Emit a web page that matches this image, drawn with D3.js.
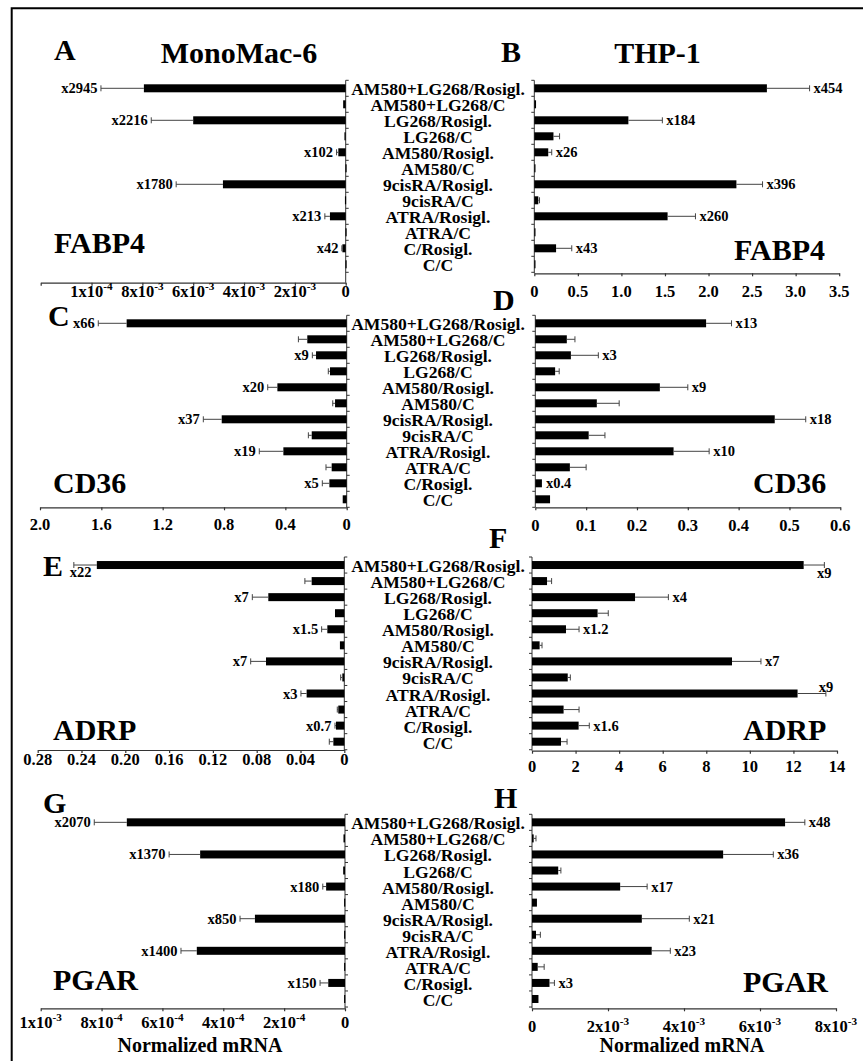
<!DOCTYPE html>
<html><head><meta charset="utf-8">
<script src="https://cdn.jsdelivr.net/npm/d3@7"></script>
<style>
html,body{margin:0;padding:0;background:#fff;}
</style></head>
<body>
<svg id="chart" width="863" height="1061" font-family="'Liberation Serif', 'Times New Roman', 'DejaVu Serif', serif" font-weight="bold"></svg>
<script>
// ---------------- DATA ----------------
const categories = ["AM580+LG268/Rosigl.","AM580+LG268/C","LG268/Rosigl.","LG268/C","AM580/Rosigl.","AM580/C",
  "9cisRA/Rosigl.","9cisRA/C","ATRA/Rosigl.","ATRA/C","C/Rosigl.","C/C"];

// FABP4
const fabp4Mono     = [7.94e-3,1.0e-4,6.0e-3,5e-5,2.9e-4,1e-5,4.83e-3,3e-5,6.2e-4,1e-5,1.3e-4,1e-5];
const fabp4MonoSD   = [1.69e-3,0,1.65e-3,0,7e-5,0,1.84e-3,0,2.0e-4,0,2e-5,0];
const fabp4MonoFold = ["x2945","","x2216","","x102","","x1780","","x213","","x42",""];
const fabp4Thp      = [2.67,0.02,1.08,0.22,0.16,0.005,2.32,0.046,1.53,0.005,0.25,0.005];
const fabp4ThpSD    = [0.49,0,0.39,0.07,0.04,0,0.30,0.014,0.32,0,0.18,0];
const fabp4ThpFold  = ["x454","","x184","","x26","","x396","","x260","","x43",""];
// CD36
const cd36Mono      = [1.435,0.257,0.20,0.109,0.452,0.076,0.815,0.228,0.413,0.098,0.113,0.026];
const cd36MonoSD    = [0.185,0.058,0.024,0.011,0.063,0.015,0.12,0.022,0.157,0.037,0.046,0];
const cd36MonoFold  = ["x66","","x9","","x20","","x37","","x19","","x5",""];
const cd36Thp       = [0.336,0.062,0.070,0.039,0.245,0.121,0.471,0.105,0.272,0.068,0.013,0.029];
const cd36ThpSD     = [0.05,0.016,0.054,0.008,0.055,0.044,0.061,0.032,0.07,0.032,0,0];
const cd36ThpFold   = ["x13","","x3","","x9","","x18","","x10","","x0.4",""];
// ADRP
const adrpMono      = [0.226,0.0298,0.0694,0.0085,0.0155,0.004,0.0715,0.0018,0.0344,0.0055,0.0076,0.010];
const adrpMonoSD    = [0.021,0.0062,0.0146,0,0.0052,0,0.014,0.0015,0.0052,0.0009,0.0009,0.0037];
const adrpMonoFold  = ["x22","","x7","","x1.5","","x7","","x3","","x0.7",""];
const adrpThp       = [12.47,0.69,4.73,3.01,1.56,0.35,9.18,1.64,12.19,1.45,2.14,1.33];
const adrpThpSD     = [0.95,0.21,1.53,0.49,0.60,0.11,1.33,0.12,1.30,0.71,0.49,0.28];
const adrpThpFold   = ["x9","","x4","","x1.2","","x7","","x9","","x1.6",""];
// PGAR
const pgarMono      = [7.17e-4,5e-6,4.76e-4,6e-6,6.2e-5,3e-6,2.96e-4,3e-6,4.87e-4,3e-6,5.5e-5,3e-6];
const pgarMonoSD    = [1.07e-4,0,1.02e-4,0,1.1e-5,0,4.9e-5,0,5.2e-5,0,2.7e-5,0];
const pgarMonoFold  = ["x2070","","x1370","","x180","","x850","","x1400","","x150",""];
const pgarThp       = [6.66e-3,4.4e-5,5.03e-3,6.9e-4,2.32e-3,1.3e-4,2.89e-3,1.05e-4,3.15e-3,1.5e-4,4.6e-4,1.7e-4];
const pgarThpSD     = [5.2e-4,6.1e-5,1.32e-3,7e-5,7.1e-4,0,1.25e-3,1.15e-4,4.9e-4,1.7e-4,1.3e-4,0];
const pgarThpFold   = ["x48","","x36","","x17","","x21","","x23","","x3",""];

// Tick values and labels
const ticksA = [0,0.002,0.004,0.006,0.008,0.010,0.012];
const tickLabelsA = ["0","2x10^-3","4x10^-3","6x10^-3","8x10^-3","1x10^-4",""];
const ticksB = [0,0.5,1.0,1.5,2.0,2.5,3.0,3.5];
const tickLabelsB = ["0","0.5","1.0","1.5","2.0","2.5","3.0","3.5"];
const ticksC = [0,0.4,0.8,1.2,1.6,2.0];
const tickLabelsC = ["0","0.4","0.8","1.2","1.6","2.0"];
const ticksD = [0,0.1,0.2,0.3,0.4,0.5,0.6];
const tickLabelsD = ["0","0.1","0.2","0.3","0.4","0.5","0.6"];
const ticksE = [0,0.04,0.08,0.12,0.16,0.20,0.24,0.28];
const tickLabelsE = ["0","0.04","0.08","0.12","0.16","0.20","0.24","0.28"];
const ticksF = [0,2,4,6,8,10,12,14];
const tickLabelsF = ["0","2","4","6","8","10","12","14"];
const ticksG = [0,2e-4,4e-4,6e-4,8e-4,1e-3];
const tickLabelsG = ["0","2x10^-4","4x10^-4","6x10^-4","8x10^-4","1x10^-3"];
const ticksH = [0,2e-3,4e-3,6e-3,8e-3];
const tickLabelsH = ["0","2x10^-3","4x10^-3","6x10^-3","8x10^-3"];

const cellLines = ["MonoMac-6","THP-1"];
const genes = ["FABP4","CD36","ADRP","PGAR"];
const panelLetters = ["A","B","C","D","E","F","G","H"];
const axisTitle = "Normalized mRNA";

// ---------------- LAYOUT ----------------
const SERIF = "'Liberation Serif','Times New Roman','DejaVu Serif',serif";
const svg = d3.select("#chart");
const FONT_LBL = 17.6, FONT_FOLD = 14.5, FONT_TICK = 16.5, FONT_BIG = 30;

function T(g){ return g.append("text").attr("font-family",SERIF).attr("font-weight","bold").attr("fill","#000"); }

svg.append("path").attr("d","M11.7,1061V8.3H863").attr("fill","none").attr("stroke","#000").attr("stroke-width",2);

const rows = [
  {top:80.3, step:16.0, gene:genes[0],
   L:{vals:fabp4Mono,sd:fabp4MonoSD,fold:fabp4MonoFold,dom:0.012,range:[345.7,40.7],axisY:282.7,ticks:ticksA,labels:tickLabelsA,lblY:296.5},
   R:{vals:fabp4Thp,sd:fabp4ThpSD,fold:fabp4ThpFold,dom:3.5,range:[534.3,839.2],axisY:273.3,ticks:ticksB,labels:tickLabelsB,lblY:296.5}},
  {top:315.3, step:16.0, gene:genes[1],
   L:{vals:cd36Mono,sd:cd36MonoSD,fold:cd36MonoFold,dom:2.0,range:[346.7,40],axisY:507.3,ticks:ticksC,labels:tickLabelsC,lblY:530},
   R:{vals:cd36Thp,sd:cd36ThpSD,fold:cd36ThpFold,dom:0.6,range:[535.3,840.3],axisY:507.3,ticks:ticksD,labels:tickLabelsD,lblY:530.5}},
  {top:557, step:16.06, gene:genes[2],
   L:{vals:adrpMono,sd:adrpMonoSD,fold:adrpMonoFold,dom:0.28,range:[344.3,37.7],axisY:750,ticks:ticksE,labels:tickLabelsE,lblY:764.5},
   R:{vals:adrpThp,sd:adrpThpSD,fold:adrpThpFold,dom:14,range:[532,837],axisY:750.7,ticks:ticksF,labels:tickLabelsF,lblY:771.5}},
  {top:814.3, step:16.06, gene:genes[3],
   L:{vals:pgarMono,sd:pgarMonoSD,fold:pgarMonoFold,dom:1e-3,range:[345,40.7],axisY:1008.3,ticks:ticksG,labels:tickLabelsG,lblY:1028},
   R:{vals:pgarThp,sd:pgarThpSD,fold:pgarThpFold,dom:8e-3,range:[532,836],axisY:1008.3,ticks:ticksH,labels:tickLabelsH,lblY:1031.5}}
];

// special fold-label placements (row, side, index) -> mode
const special = {"2L0":"below","2R0":"belowMid","2R8":"aboveMid"};

function supText(g, str, x, y, size, anchor){
  const t = T(g).attr("x",x).attr("y",y).attr("font-size",size).attr("text-anchor",anchor);
  const parts = str.split("^");
  t.append("tspan").text(parts[0]);
  if(parts.length>1){
    t.append("tspan").attr("dy",-size*0.42).attr("font-size",size*0.68).text(parts[1]);
  }
  return t;
}

rows.forEach((row, ri) => {
  const y = d3.scaleBand().domain(categories).range([row.top, row.top + row.step*12]);
  const barH = 8;
  ["L","R"].forEach(side => {
    const p = row[side];
    const x = d3.scaleLinear().domain([0,p.dom]).range(p.range);
    const g = svg.append("g");
    const x0 = x(0);
    const sign = side==="L" ? -1 : 1;
    const axis = (d3.axisBottom(x).tickValues(p.ticks).tickSize(3).tickSizeOuter(0).tickFormat(""));
    const ag = g.append("g").attr("transform",`translate(0,${p.axisY})`).call(axis);
    ag.select(".domain").attr("stroke","#333").attr("stroke-width",1.2);
    ag.selectAll(".tick line").attr("stroke","#333").attr("stroke-width",1.2);
    p.ticks.forEach((t,i) => {
      if(p.labels[i]) supText(g, p.labels[i], x(t), p.lblY, FONT_TICK, "middle");
    });
    g.append("line").attr("x1",x0).attr("x2",x0).attr("y1",row.top).attr("y2",p.axisY)
      .attr("stroke","#333").attr("stroke-width",1);
    const bounds = categories.map(c => y(c)).concat([y.range()[1]]);
    g.selectAll(".ytick").data(bounds).enter().append("line")
      .attr("x1",x0).attr("x2",x0 - sign*3).attr("y1",d=>d).attr("y2",d=>d)
      .attr("stroke","#333").attr("stroke-width",1);
    categories.forEach((c,i) => {
      const v = p.vals[i], sd = p.sd[i];
      const cy = y(c) + y.bandwidth()/2;
      const xv = x(v);
      g.append("rect").attr("x",Math.min(x0,xv)).attr("y",cy-barH/2)
        .attr("width",Math.max(Math.abs(xv-x0),1.2)).attr("height",barH).attr("fill","#000");
      let xe = xv;
      if(sd>0){
        xe = x(v+sd);
        g.append("line").attr("x1",xv).attr("x2",xe).attr("y1",cy).attr("y2",cy).attr("stroke","#444").attr("stroke-width",1);
        g.append("line").attr("x1",xe).attr("x2",xe).attr("y1",cy-3).attr("y2",cy+3).attr("stroke","#444").attr("stroke-width",1);
      }
      const lab = p.fold[i];
      if(lab){
        const mode = special[ri+side+i];
        let lx, ly = cy+5, anchor;
        if(mode==="below"){ lx = xe-4; ly = cy+12; anchor="start"; }
        else if(mode==="belowMid"){ lx = xe; ly = cy+13; anchor="middle"; }
        else if(mode==="aboveMid"){ lx = xe; ly = cy-2; anchor="middle"; }
        else if(side==="L"){ lx = xe-3.5; anchor="end"; }
        else { lx = xe+4; anchor="start"; }
        T(g).attr("x",lx).attr("y",ly).attr("font-size",FONT_FOLD).attr("text-anchor",anchor).text(lab);
      }
    });
  });
  categories.forEach(c => {
    T(svg).attr("x",438).attr("y",y(c)+y.bandwidth()/2+7)
      .attr("font-size",FONT_LBL).attr("text-anchor","middle").text(c);
  });
});

const bigTexts = [
  [panelLetters[0],54,60,"start"],[panelLetters[1],501,62,"start"],
  [panelLetters[2],48,326,"start"],[panelLetters[3],493,310,"start"],
  [panelLetters[4],43,576,"start"],[panelLetters[5],489,548,"start"],
  [panelLetters[6],43,813,"start"],[panelLetters[7],494,808,"start"],
  [cellLines[0],239,63,"middle"],[cellLines[1],657.5,63,"middle"],
  [genes[0],54,253,"start"],[genes[0],734,260,"start"],
  [genes[1],53,493,"start"],[genes[1],753,493,"start"],
  [genes[2],53,740,"start"],[genes[2],743,740,"start"],
  [genes[3],53,990,"start"],[genes[3],743,992,"start"]
];
bigTexts.forEach(([t,x,y,a]) => T(svg).attr("x",x).attr("y",y).attr("font-size",FONT_BIG).attr("text-anchor",a).text(t));
T(svg).attr("x",200).attr("y",1052).attr("font-size",20).attr("text-anchor","middle").text(axisTitle);
T(svg).attr("x",682).attr("y",1052).attr("font-size",20).attr("text-anchor","middle").text(axisTitle);
</script>
</body></html>
